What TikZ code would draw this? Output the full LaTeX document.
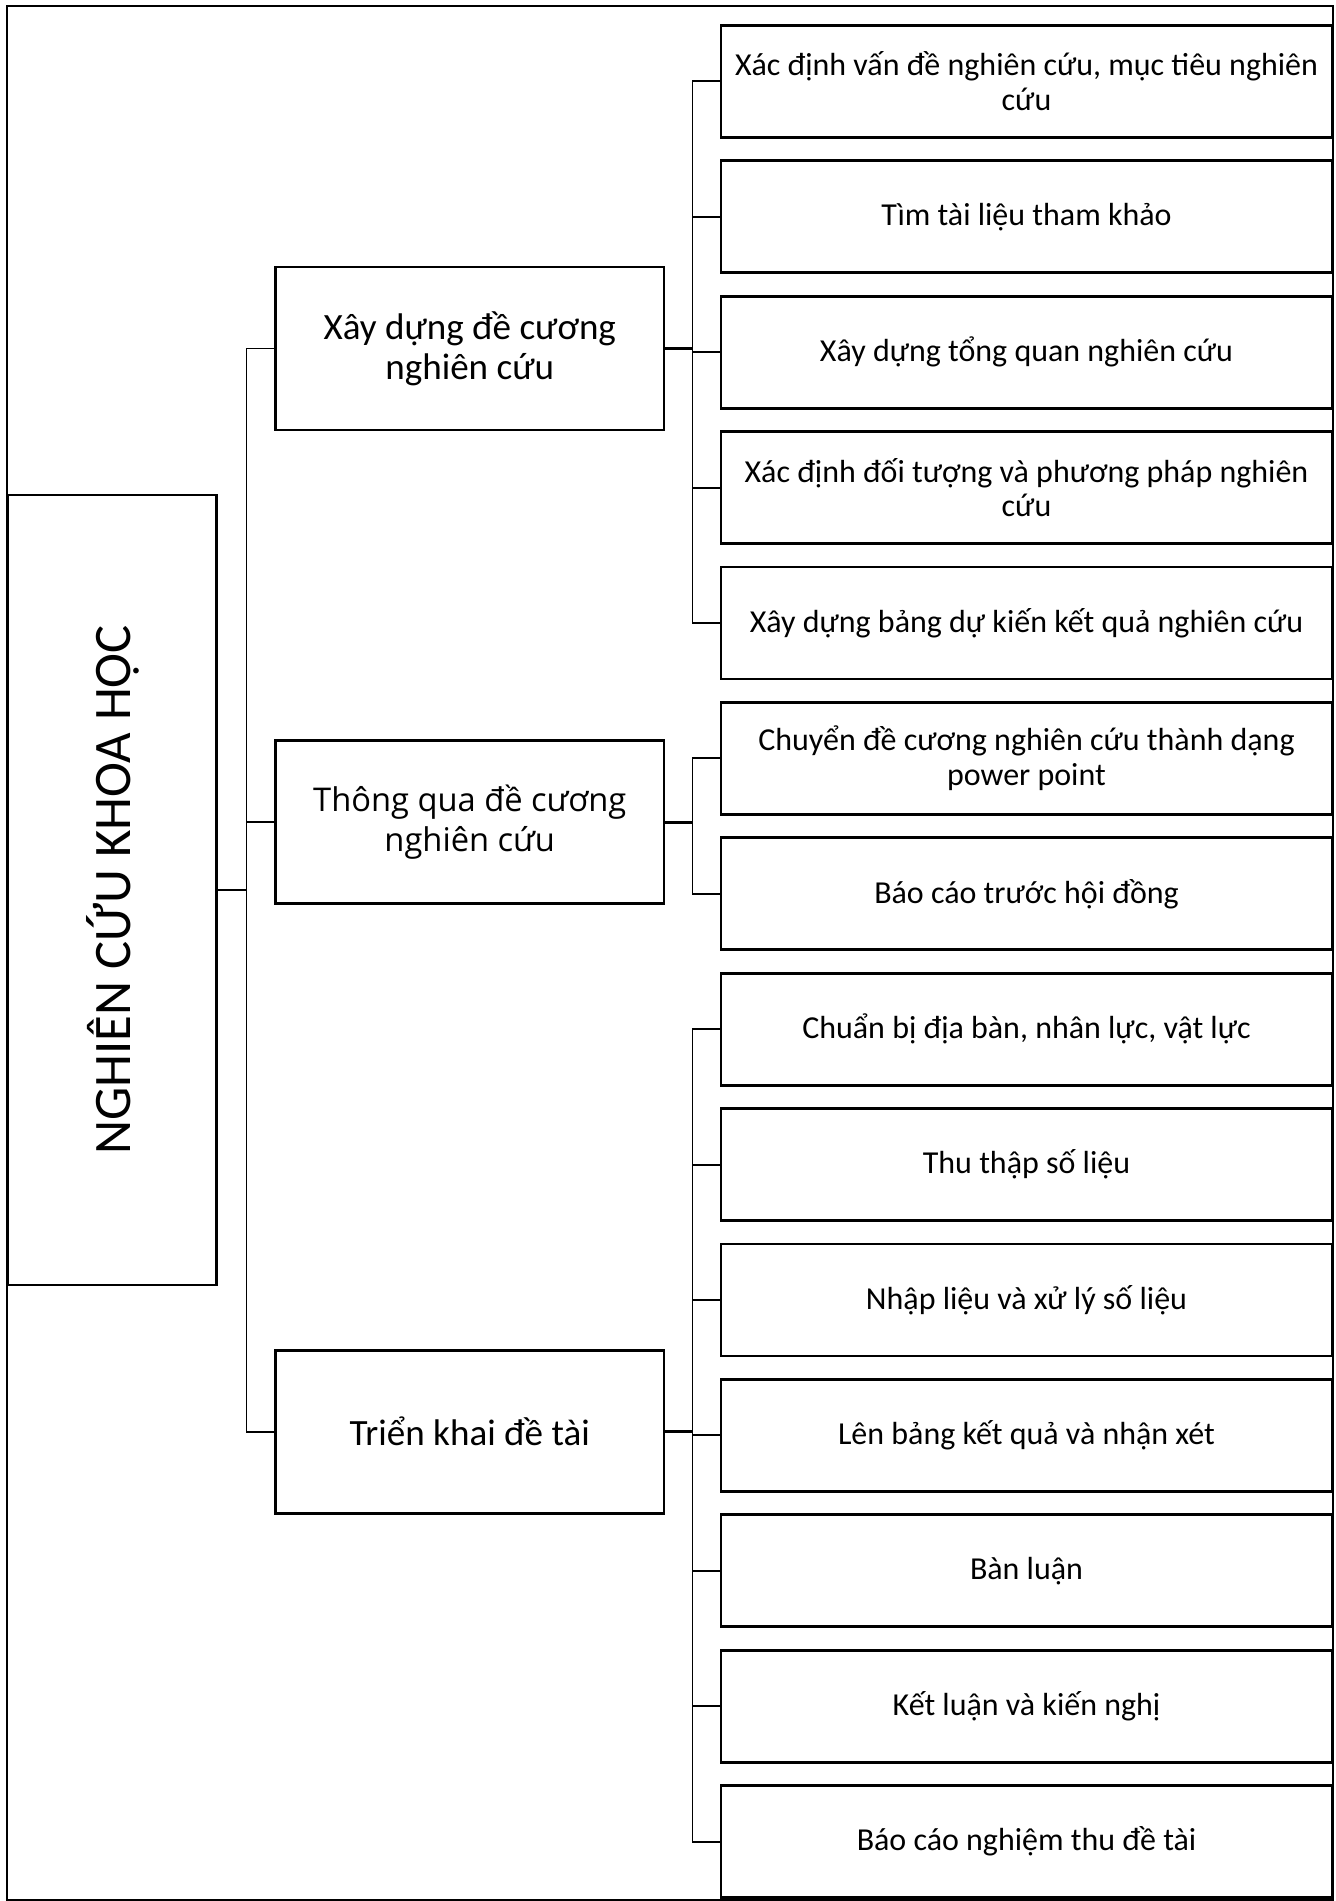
\documentclass[tikz,border=0pt]{standalone}
\usepackage{fontspec}
\setmainfont{Carlito}
\newfontfamily\widefont{Open Sans}
\usepackage{graphicx}

\tikzset{
  leafbox/.style={draw, line width=1.6pt, minimum width=12.22cm, minimum height=2.24cm,
    inner sep=2pt, align=center, font=\fontsize{18.2}{19.7}\selectfont},
  stagebox/.style={draw, line width=1.6pt, minimum width=7.77cm, minimum height=3.26cm,
    inner sep=2pt, align=center, font=\fontsize{21.1}{23}\selectfont},
  rootbox/.style={draw, line width=1.6pt, minimum width=4.18cm, minimum height=15.8cm,
    font=\fontsize{30}{32}\selectfont},
  link/.style={line width=1.1pt},
  buslink/.style={line width=1.7pt},
}

\begin{document}
\begin{tikzpicture}
\useasboundingbox (0,0) rectangle (26.7,-38.02);
% khung ngoai
\draw[line width=0.9pt] (0.14,-0.12) rectangle (26.66,-38.0);

% goc
\node[rootbox] (root) at (2.248,-17.8) {\rotatebox{90}{NGHIÊN CỨU KHOA HỌC}};

% ba giai doan
\node[stagebox] (xaydung) at (9.395,-6.97) {Xây dựng đề cương\\nghiên cứu};
\node[stagebox, font=\widefont\fontsize{18.6}{23.2}\selectfont] (thongqua) at (9.395,-16.444) {Thông qua đề cương\\nghiên cứu};
\node[stagebox] (trienkhai) at (9.395,-28.634) {Triển khai đề tài};

% cac buoc
\node[leafbox] (l1) at (20.53,-1.628) {Xác định vấn đề nghiên cứu, mục tiêu nghiên\\cứu};
\node[leafbox] (l2) at (20.53,-4.336) {Tìm tài liệu tham khảo};
\node[leafbox] (l3) at (20.53,-7.044) {Xây dựng tổng quan nghiên cứu};
\node[leafbox] (l4) at (20.53,-9.752) {Xác định đối tượng và phương pháp nghiên\\cứu};
\node[leafbox] (l5) at (20.53,-12.46) {Xây dựng bảng dự kiến kết quả nghiên cứu};
\node[leafbox] (l6) at (20.53,-15.168) {Chuyển đề cương nghiên cứu thành dạng\\power point};
\node[leafbox] (l7) at (20.53,-17.876) {Báo cáo trước hội đồng};
\node[leafbox] (l8) at (20.53,-20.584) {Chuẩn bị địa bàn, nhân lực, vật lực};
\node[leafbox] (l9) at (20.53,-23.292) {Thu thập số liệu};
\node[leafbox] (l10) at (20.53,-26.0) {Nhập liệu và xử lý số liệu};
\node[leafbox] (l11) at (20.53,-28.708) {Lên bảng kết quả và nhận xét};
\node[leafbox] (l12) at (20.53,-31.416) {Bàn luận};
\node[leafbox] (l13) at (20.53,-34.124) {Kết luận và kiến nghị};
\node[leafbox] (l14) at (20.53,-36.832) {Báo cáo nghiệm thu đề tài};

\coordinate (trunk) at (4.93,0);
\coordinate (bus) at (13.85,0);

% goc -> giai doan
\draw[link] (root.east) -- (root.east -| trunk);
\draw[link] (xaydung.west) -| (trunk |- trienkhai.west) -- (trienkhai.west);
\draw[link] (thongqua.west) -- (thongqua.west -| trunk);

% giai doan -> buoc
\draw[buslink] (xaydung.east) -- (xaydung.east -| bus);
\draw[buslink] (thongqua.east) -- (thongqua.east -| bus);
\draw[buslink] (trienkhai.east) -- (trienkhai.east -| bus);
\draw[link] (l1.west) -| (bus |- l5.west) -- (l5.west);
\draw[link] (l6.west) -| (bus |- l7.west) -- (l7.west);
\draw[link] (l8.west) -| (bus |- l14.west) -- (l14.west);
\foreach \n in {2,3,4,9,10,11,12,13}
  \draw[link] (l\n.west) -- (l\n.west -| bus);
\end{tikzpicture}
\end{document}
